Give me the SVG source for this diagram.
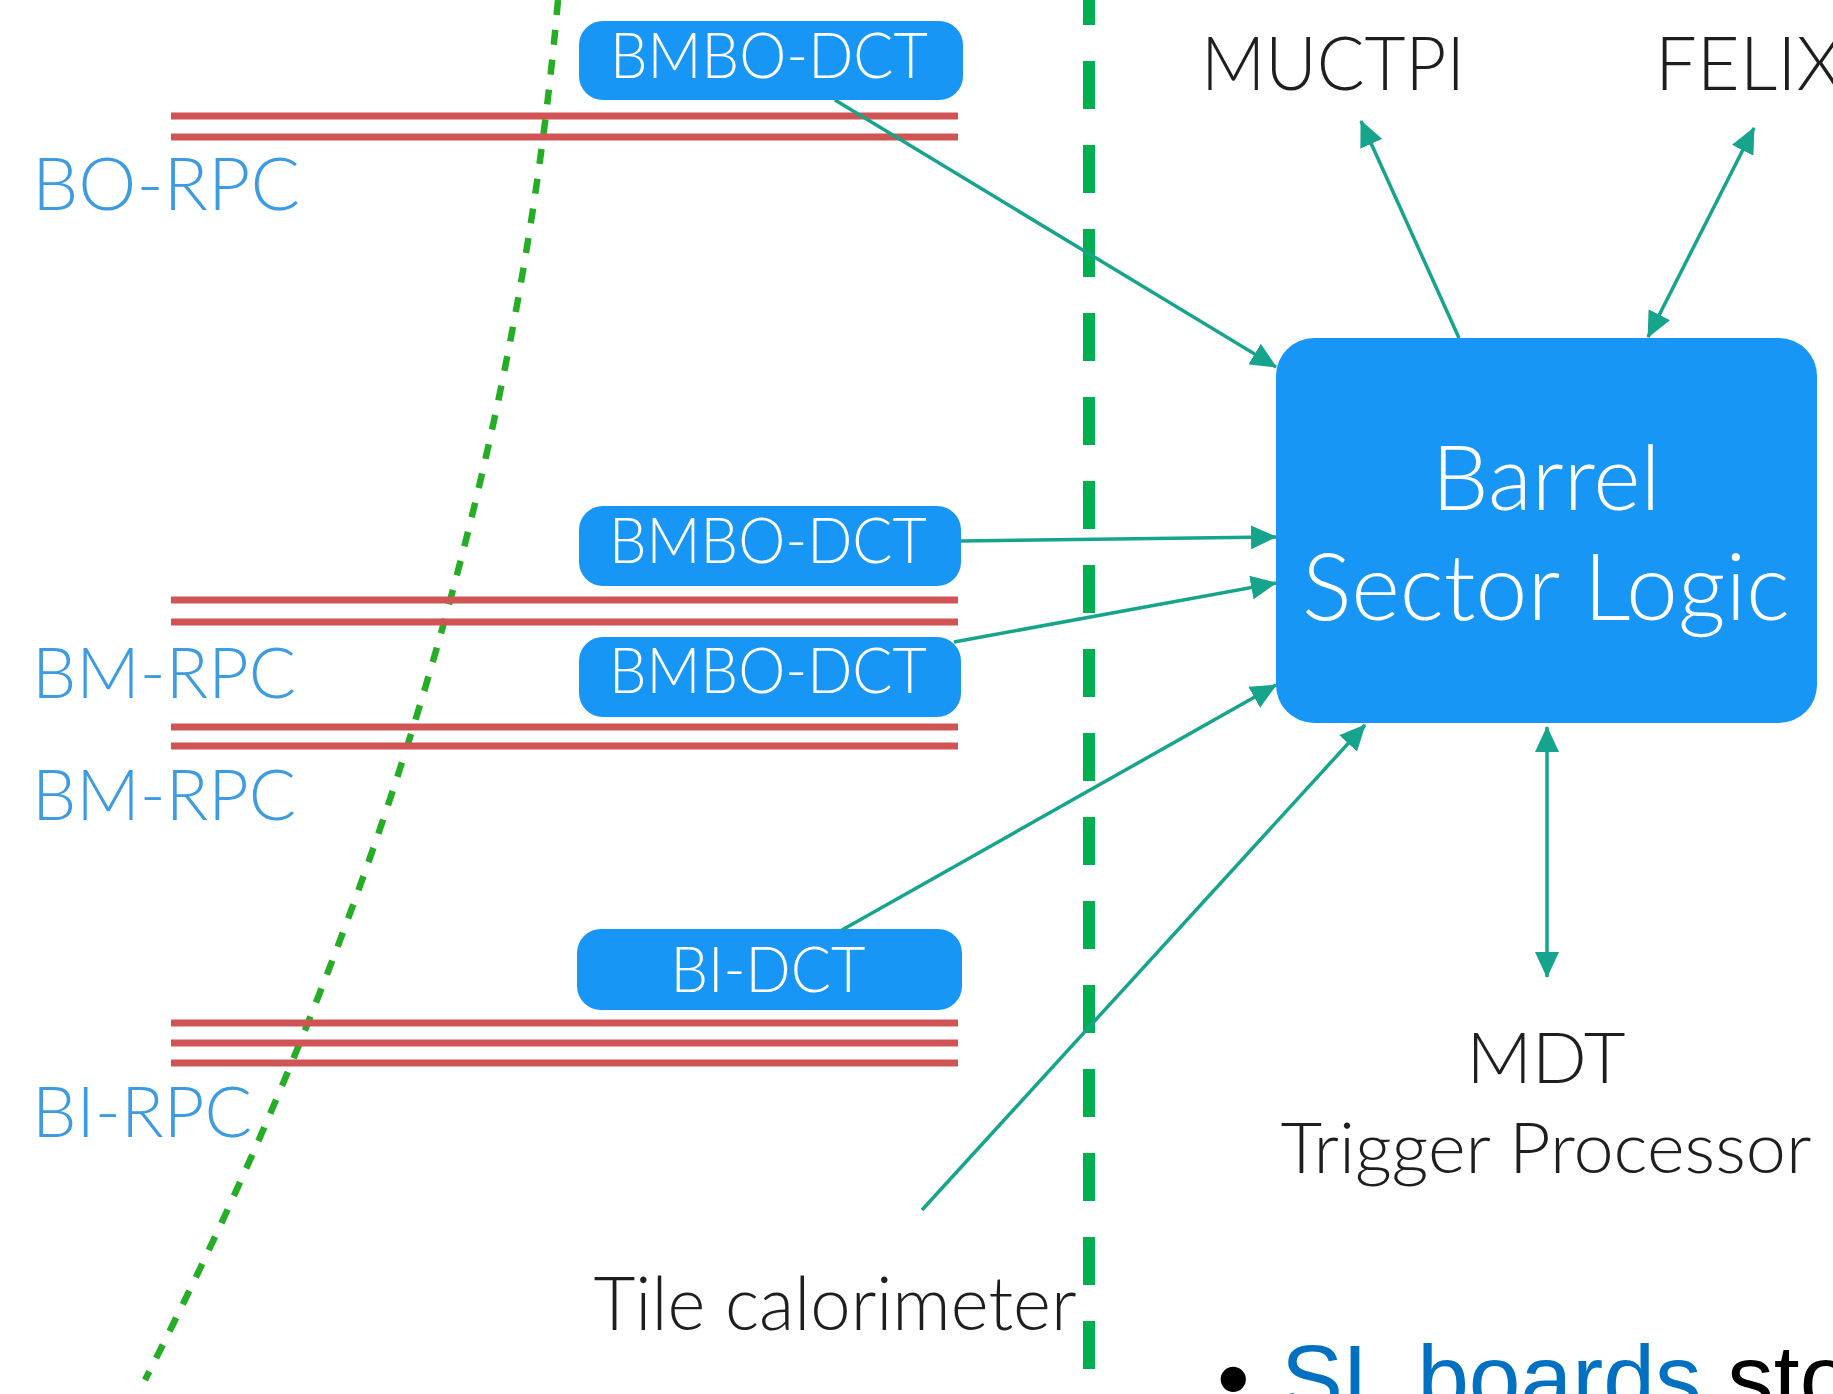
<svg xmlns="http://www.w3.org/2000/svg" width="1833" height="1394" viewBox="0 0 1833 1394">
<style>
  .gs { font-family: Lato, "Open Sans", "DejaVu Sans", sans-serif; font-weight: 300; }
  .rpc { fill: #3d9be2; }
  .dark { fill: #1e1e1e; }
  .white { fill: #ffffff; }
  .box { fill: #1796f6; }
  .red { stroke: #d05454; stroke-width: 7; fill: none; }
  .conn { stroke: #16a48c; stroke-width: 3.5; fill: none; }
</style>
<defs>
  <marker id="ah" viewBox="0 0 26 24" refX="25" refY="12" markerWidth="26" markerHeight="24" markerUnits="userSpaceOnUse" orient="auto-start-reverse">
    <path d="M0,0 L26,12 L0,24 z" fill="#16a48c"/>
  </marker>
</defs>
<rect width="1833" height="1394" fill="#ffffff"/>

<g id="track">
  <path d="M558,0 Q497.5,690 145,1380" fill="none" stroke="#26ad26" stroke-width="6.5" stroke-dasharray="15 15"/>
</g>
<g id="boundary">
  <line x1="1089" y1="-23" x2="1089" y2="1394" stroke="#00b050" stroke-width="12" stroke-dasharray="48 36"/>
</g>

<g id="bo-rpc">
  <line class="red" x1="171" y1="116" x2="958" y2="116"/>
  <line class="red" x1="171" y1="137" x2="958" y2="137"/>
  <text class="gs rpc" x="32" y="210" font-size="72" textLength="268" lengthAdjust="spacingAndGlyphs">BO-RPC</text>
</g>
<g id="bm-rpc-1">
  <line class="red" x1="171" y1="600" x2="958" y2="600"/>
  <line class="red" x1="171" y1="622" x2="958" y2="622"/>
  <text class="gs rpc" x="32" y="698" font-size="71" textLength="264" lengthAdjust="spacingAndGlyphs">BM-RPC</text>
</g>
<g id="bm-rpc-2">
  <line class="red" x1="171" y1="727" x2="958" y2="727"/>
  <line class="red" x1="171" y1="746" x2="958" y2="746"/>
  <text class="gs rpc" x="32" y="820" font-size="71" textLength="264" lengthAdjust="spacingAndGlyphs">BM-RPC</text>
</g>
<g id="bi-rpc">
  <line class="red" x1="171" y1="1023" x2="958" y2="1023"/>
  <line class="red" x1="171" y1="1043" x2="958" y2="1043"/>
  <line class="red" x1="171" y1="1063" x2="958" y2="1063"/>
  <text class="gs rpc" x="32" y="1137" font-size="70" textLength="220" lengthAdjust="spacingAndGlyphs">BI-RPC</text>
</g>

<g id="bmbo-dct-1">
  <rect class="box" x="579" y="21" width="384" height="79" rx="24"/>
  <text class="gs white" x="769" y="78" font-size="63" text-anchor="middle" textLength="318" lengthAdjust="spacingAndGlyphs">BMBO-DCT</text>
</g>
<g id="bmbo-dct-2">
  <rect class="box" x="579" y="506" width="382" height="80" rx="24"/>
  <text class="gs white" x="768" y="563" font-size="63" text-anchor="middle" textLength="318" lengthAdjust="spacingAndGlyphs">BMBO-DCT</text>
</g>
<g id="bmbo-dct-3">
  <rect class="box" x="579" y="637" width="382" height="80" rx="24"/>
  <text class="gs white" x="768" y="693" font-size="63" text-anchor="middle" textLength="318" lengthAdjust="spacingAndGlyphs">BMBO-DCT</text>
</g>
<g id="bi-dct">
  <rect class="box" x="577" y="929" width="385" height="81" rx="24"/>
  <text class="gs white" x="768" y="992" font-size="63" text-anchor="middle" textLength="195" lengthAdjust="spacingAndGlyphs">BI-DCT</text>
</g>

<g id="sector-logic">
  <rect class="box" x="1276" y="338" width="541" height="385" rx="38"/>
  <text class="gs white" x="1546" y="510" font-size="90" text-anchor="middle" textLength="229" lengthAdjust="spacingAndGlyphs">Barrel</text>
  <text class="gs white" x="1546" y="620" font-size="93" text-anchor="middle" textLength="488" lengthAdjust="spacingAndGlyphs">Sector Logic</text>
</g>

<g id="muctpi">
  <text class="gs dark" x="1333" y="90" font-size="74" text-anchor="middle" textLength="264" lengthAdjust="spacingAndGlyphs">MUCTPI</text>
</g>
<g id="felix">
  <text class="gs dark" x="1655" y="90" font-size="74">FELIX</text>
</g>
<g id="mdt">
  <text class="gs dark" x="1546" y="1083" font-size="70" text-anchor="middle" textLength="159" lengthAdjust="spacingAndGlyphs">MDT</text>
  <text class="gs dark" x="1546" y="1173" font-size="71" text-anchor="middle" textLength="531" lengthAdjust="spacingAndGlyphs">Trigger Processor</text>
</g>
<g id="tile">
  <text class="gs dark" x="835" y="1330" font-size="74" text-anchor="middle" textLength="483" lengthAdjust="spacingAndGlyphs">Tile calorimeter</text>
</g>

<g id="connectors">
  <line class="conn" x1="835" y1="100" x2="1276" y2="367" marker-end="url(#ah)"/>
  <line class="conn" x1="961" y1="541" x2="1276" y2="537" marker-end="url(#ah)"/>
  <line class="conn" x1="954" y1="642" x2="1276" y2="583" marker-end="url(#ah)"/>
  <line class="conn" x1="842" y1="930" x2="1276" y2="685" marker-end="url(#ah)"/>
  <line class="conn" x1="922" y1="1210" x2="1365" y2="725" marker-end="url(#ah)"/>
  <line class="conn" x1="1459" y1="338" x2="1361" y2="121" marker-end="url(#ah)"/>
  <line class="conn" x1="1648" y1="337" x2="1754" y2="128" marker-start="url(#ah)" marker-end="url(#ah)"/>
  <line class="conn" x1="1547" y1="727" x2="1547" y2="977" marker-start="url(#ah)" marker-end="url(#ah)"/>
</g>

<g id="bullet-text">
  <text x="1217" y="1410" font-family="'Liberation Sans', Arial, sans-serif" font-size="93" fill="#000000">•</text>
  <text x="1281" y="1410" font-family="'Liberation Sans', Arial, sans-serif" font-size="93" fill="#000000"><tspan fill="#0070c0">SL boards</tspan> sto</text>
</g>
</svg>
